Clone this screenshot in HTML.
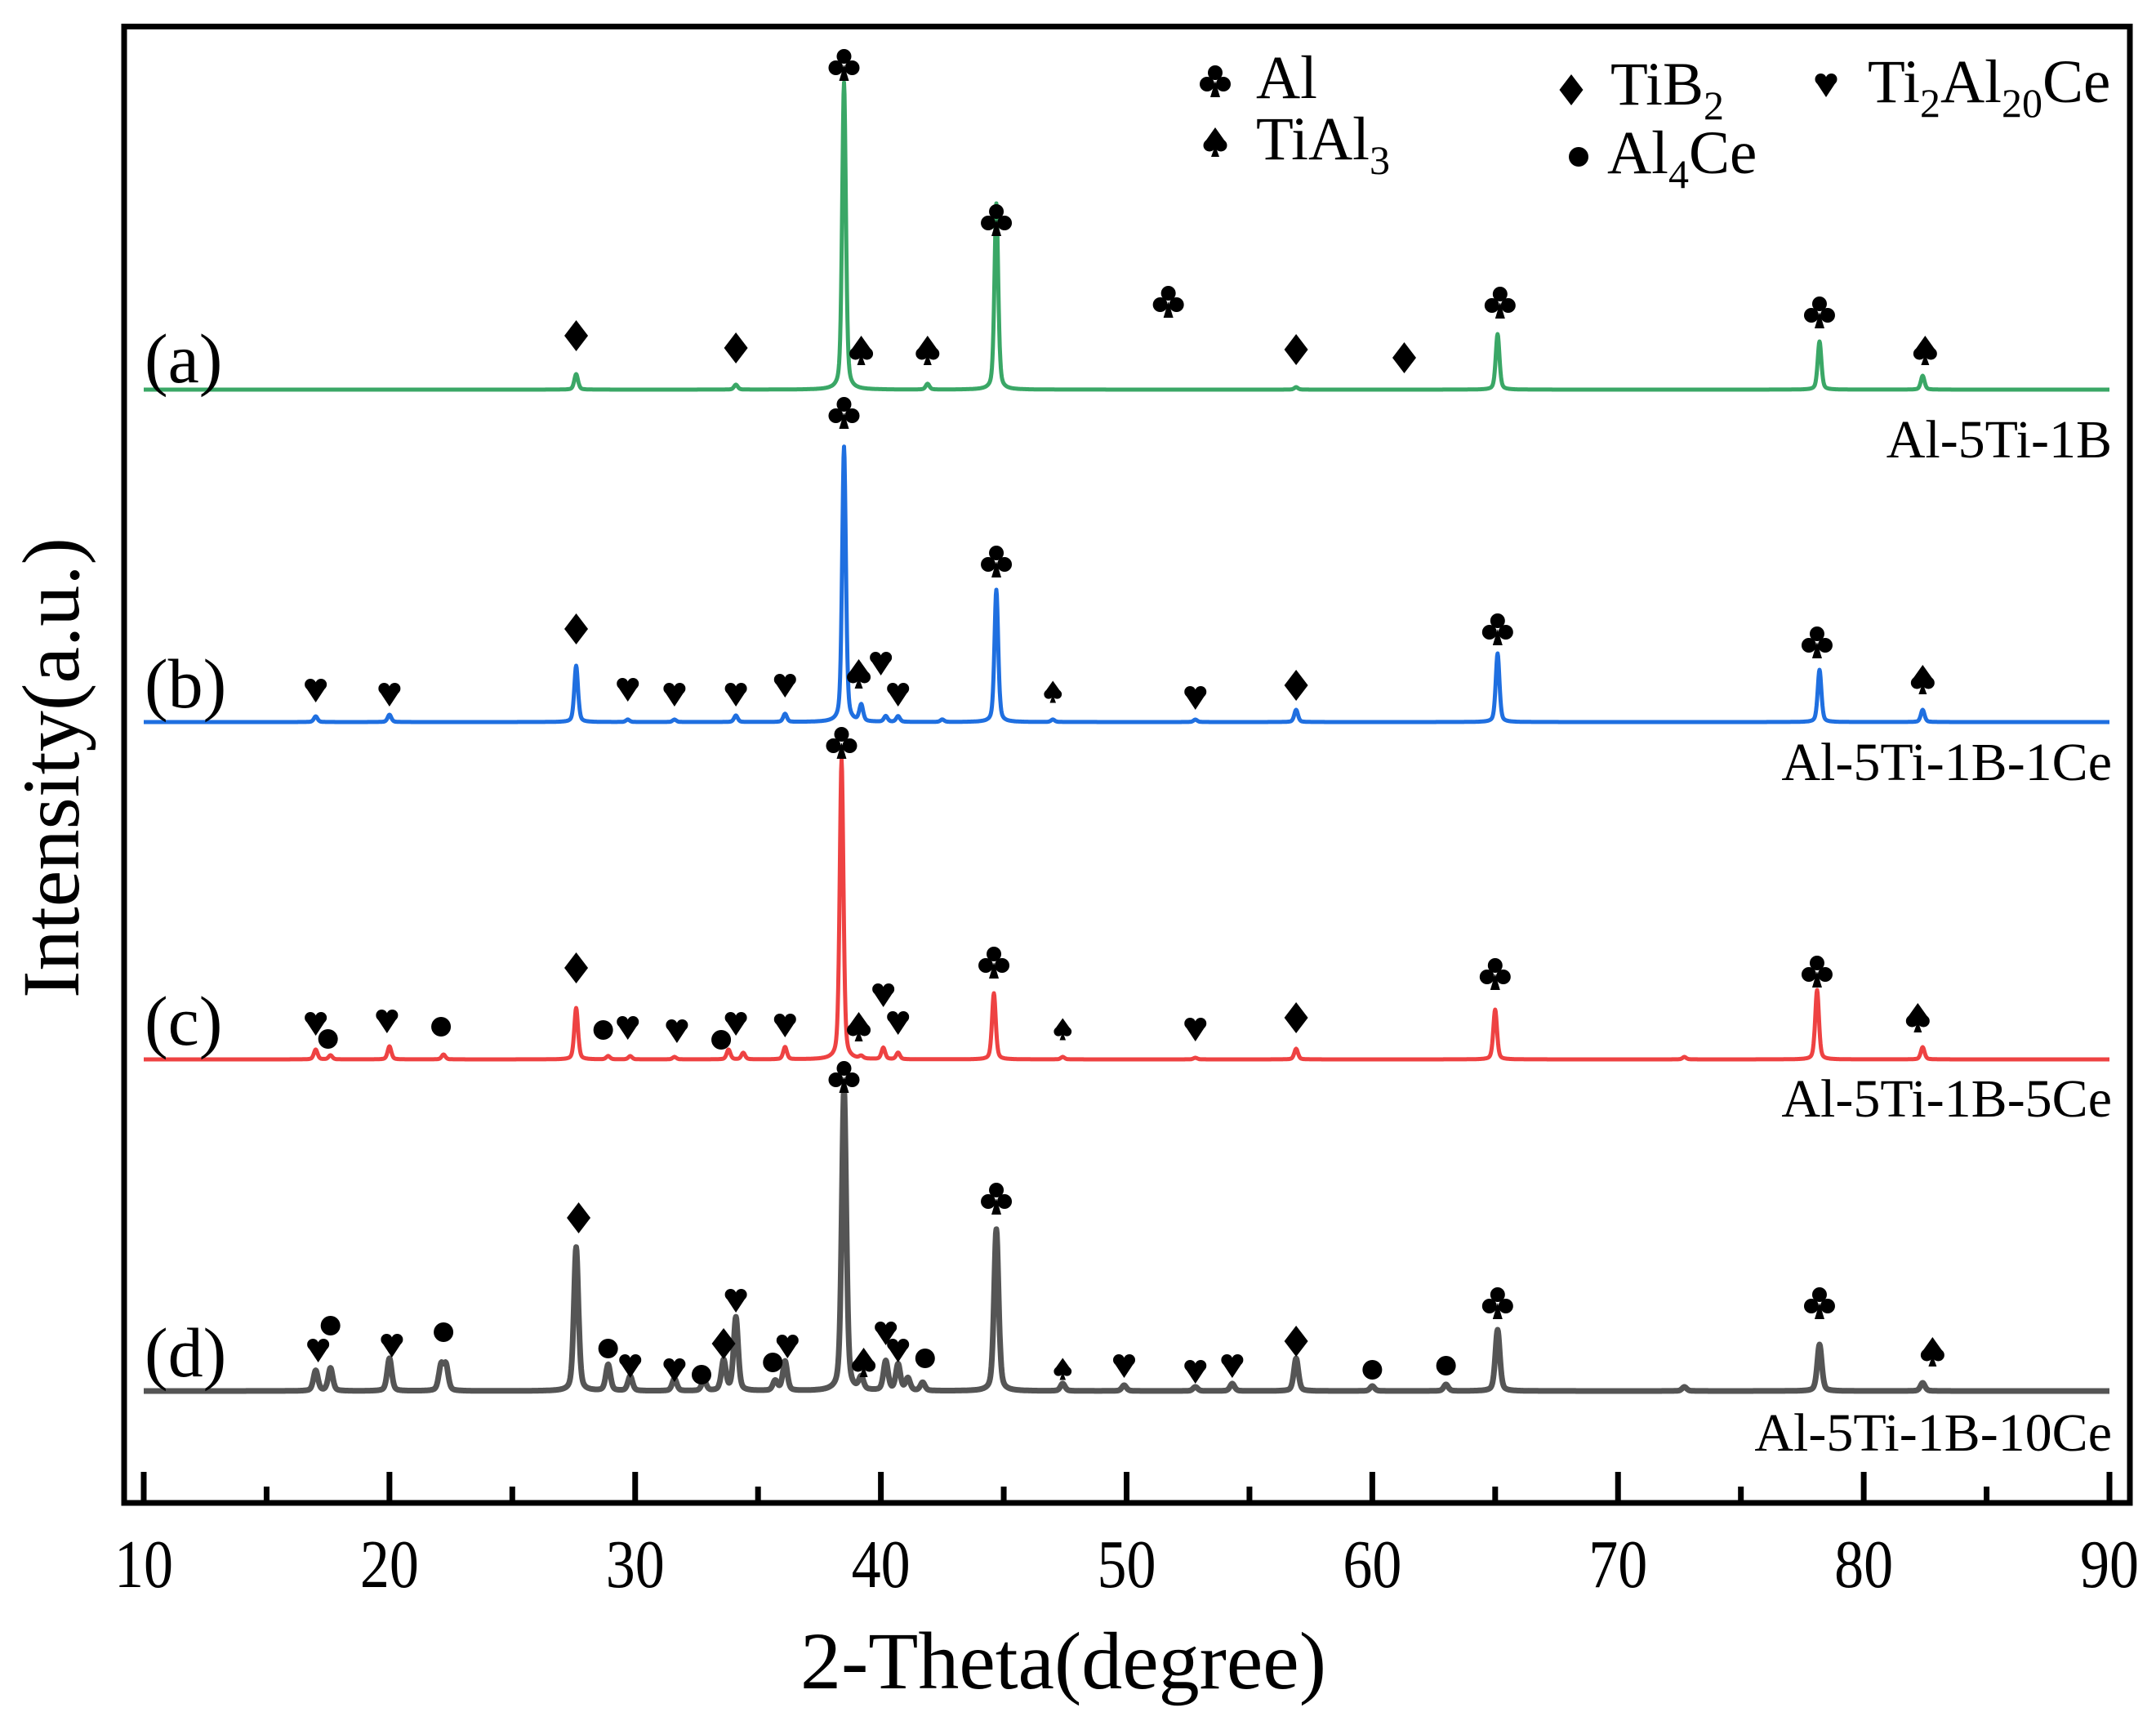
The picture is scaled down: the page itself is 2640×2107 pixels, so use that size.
<!DOCTYPE html>
<html><head><meta charset="utf-8">
<style>
html,body{margin:0;padding:0;background:#fff;}
svg{display:block;}
text{font-family:"Liberation Serif","Times New Roman",serif;fill:#000;}
</style></head>
<body>
<svg id="chart" width="2640" height="2107" viewBox="0 0 2640 2107" xmlns="http://www.w3.org/2000/svg">
<rect x="0" y="0" width="2640" height="2107" fill="#fff"/>
<g id="traces"></g>
<g id="markers"></g>
<g id="axes"></g>
<g id="legend"></g>
</svg>
<script>
// ---- data ----
const xTicks = [10,20,30,40,50,60,70,80,90];
const sampleNames = ["Al-5Ti-1B","Al-5Ti-1B-1Ce","Al-5Ti-1B-5Ce","Al-5Ti-1B-10Ce"];
const panelLabels = ["(a)","(b)","(c)","(d)"];
const offsets = [477,884,1297,1703]; // baseline position of each stacked pattern
const colors = ["#3aa766","#1f6fe0","#ee4242","#555555"];

const peaksA = [27.6,34.1,38.5,41.9,44.7,56.9,65.1,78.2,82.4];
const heightsA = [19,6,376,7,228,3,68,59,17];
const peaksB = [17.0,20.0,27.6,29.7,31.6,34.1,36.1,38.5,39.2,40.2,40.7,42.5,44.7,47.0,52.8,56.9,65.1,78.2,82.4];
const heightsB = [7,9,69,3,3,8,10,337,20,7,7,3,162,3,3,15,84,64,15];
const peaksC = [17.0,17.6,20.0,22.2,27.6,28.9,29.8,31.6,33.8,34.4,36.1,38.4,39.2,40.1,40.7,44.6,47.4,52.8,56.9,65.0,72.7,78.1,82.4];
const heightsC = [12,5,16,6,63,4,4,3,12,8,15,367,3,14,8,81,3,2,13,61,3,85,15];
const peaksD = [17.0,17.6,20.0,22.1,22.3,27.6,28.9,29.8,31.6,32.8,33.6,34.1,35.7,36.1,38.5,39.2,40.2,40.7,41.1,41.7,44.7,47.4,49.9,52.8,54.3,56.9,60.0,63.0,65.1,72.7,78.2,82.4];
const heightsD = [25,28,40,30,30,176,32,18,15,13,37,90,12,36,370,15,36,32,15,10,198,9,7,5,9,40,6,8,75,5,57,10];
const allPeaks = [peaksA,peaksB,peaksC,peaksD];
const allHeights = [heightsA,heightsB,heightsC,heightsD];

const mThetaA = [27.6,34.1,38.5,39.2,41.9,44.7,51.7,56.9,61.3,65.2,78.2,82.5];
const mLevelA = [66,51,398,48,48,208,108,49,39,107,95,48];
const mTypeA = ["diamond","diamond","club","spade","spade","club","club","diamond","diamond","club","club","spade"];
const mThetaB = [17.0,20.0,27.6,29.7,31.6,34.1,36.1,38.5,39.1,40.0,40.7,44.7,47.0,52.8,56.9,65.1,78.1,82.4];
const mLevelB = [39,34,114,40,34,34,45,379,59,72,34,197,37,30,45,114,98,52];
const mTypeB = ["heart","heart","diamond","heart","heart","heart","heart","club","spade","heart","heart","club","spade","heart","diamond","club","club","spade"];
const mThetaC = [17.0,17.5,19.9,22.1,27.6,28.7,29.7,31.7,33.5,34.1,36.1,38.4,39.1,40.1,40.7,44.6,47.4,52.8,56.9,65.0,78.1,82.2];
const mLevelC = [44,25,47,40,112,36,39,35,24,44,42,388,40,79,45,119,37,37,51,105,108,51];
const mTypeC = ["heart","dot","heart","dot","diamond","dot","heart","heart","dot","heart","heart","club","spade","heart","heart","club","spade","heart","diamond","club","club","spade"];
const mThetaD = [17.1,17.6,20.1,22.2,27.7,28.9,29.8,31.6,32.7,33.6,34.1,35.6,36.2,38.5,39.3,40.2,40.7,41.8,44.7,47.4,49.9,52.8,54.3,56.9,60.0,63.0,65.1,78.2,82.8];
const mLevelD = [50,80,56,72,212,52,31,26,20,58,111,35,55,385,35,71,50,40,236,27,31,24,31,61,26,31,108,108,48];
const mTypeD = ["heart","dot","heart","dot","diamond","dot","heart","heart","dot","diamond","heart","dot","heart","club","spade","heart","heart","dot","club","spade","heart","heart","heart","diamond","dot","dot","club","club","spade"];
const allMTheta = [mThetaA,mThetaB,mThetaC,mThetaD];
const allMLevel = [mLevelA,mLevelB,mLevelC,mLevelD];
const allMType = [mTypeA,mTypeB,mTypeC,mTypeD];

// ---- scales ----
const X0 = 176, X1 = 2583;
function xs(t){ return X0 + (t-10)*(X1-X0)/80; }
function ys(i, level){ return offsets[i] - level; }
const NS = "http://www.w3.org/2000/svg";
function el(tag, attrs, parent){
  const e = document.createElementNS(NS, tag);
  for (const k in attrs) e.setAttribute(k, attrs[k]);
  parent.appendChild(e); return e;
}

// ---- traces ----
const gT = document.getElementById('traces');
for (let i=0;i<4;i++){
  const P = allPeaks[i], H = allHeights[i];
  const w = i===3 ? 0.11 : 0.09;
  let d = "";
  for (let t=10; t<=90.001; t+=0.02){
    let v = 0;
    for (let k=0;k<P.length;k++){
      const u = (t-P[k])/w;
      v += H[k]*(0.6*Math.exp(-0.693*u*u) + 0.4/(1+u*u));
    }
    d += (d ? "L" : "M") + xs(t).toFixed(1) + "," + ys(i, v).toFixed(1);
  }
  const p = el('path', {d:d, fill:"none", stroke:colors[i], "stroke-width": i===3?7:5, "stroke-linejoin":"round"}, gT);
  
  
}

// ---- marker shapes ----
function drawSym(type, cx, cy, parent, s){
  s = s || 1;
  const g = el('g', {transform:`translate(${cx},${cy}) scale(${s})`, fill:"#000"}, parent);
  if (type==="diamond"){
    el('polygon', {points:"0,-19 14.5,0 0,19 -14.5,0"}, g);
  } else if (type==="dot"){
    el('ellipse', {cx:0, cy:0, rx:12, ry:12}, g);
  } else if (type==="heart"){
    el('circle', {cx:-6.5, cy:-7, r:7}, g);
    el('circle', {cx:6.5, cy:-7, r:7}, g);
    el('polygon', {points:"-13.2,-5 13.2,-5 0,15"}, g);
  } else if (type==="club"){
    el('circle', {cx:0, cy:-10, r:9}, g);
    el('circle', {cx:-10, cy:4, r:9}, g);
    el('circle', {cx:10, cy:4, r:9}, g);
    el('polygon', {points:"0,0 -6,20 6,20"}, g);
  } else if (type==="spade"){
    el('circle', {cx:-7, cy:4, r:7.5}, g);
    el('circle', {cx:7, cy:4, r:7.5}, g);
    el('polygon', {points:"-14.2,2 14.2,2 0,-18"}, g);
    el('polygon', {points:"0,4 -5,18 5,18"}, g);
  }
  return g;
}
const gM = document.getElementById('markers');
for (let i=0;i<4;i++){
  const T = allMTheta[i], L = allMLevel[i], Y = allMType[i];
  for (let k=0;k<T.length;k++){
    const small = (Y[k]==="spade" && Math.abs(T[k]-47.2)<0.5) ? 0.75 : 1;
    const m = drawSym(Y[k], xs(T[k]), ys(i, L[k]), gM, small);
    
    
  }
}

// ---- axes ----
const gA = document.getElementById('axes');
const frame = el('rect', {x:152, y:32.5, width:2456, height:1807.5, fill:"none", stroke:"#000", "stroke-width":7}, gA);


for (let t=10;t<=90;t+=5){
  const major = (t%10===0);
  const tk = el('line', {x1:xs(t), x2:xs(t), y1:1837, y2: major?1802:1820, stroke:"#000", "stroke-width":7}, gA);
  
  
}
for (let k=0;k<xTicks.length;k++){
  const tx = el('text', {x:xs(xTicks[k]), y:1943, "font-size":84, "text-anchor":"middle", textLength:72, lengthAdjust:"spacingAndGlyphs"}, gA);
  tx.textContent = xTicks[k];
  
  
}
const xt = el('text', {x:1302, y:2067, "font-size":100, "text-anchor":"middle"}, gA);
xt.textContent = "2-Theta(degree)";


const yt = el('text', {x:0, y:0, "font-size":100, "text-anchor":"middle", textLength:564, lengthAdjust:"spacingAndGlyphs", transform:"translate(96,940) rotate(-90)"}, gA);
yt.textContent = "Intensity(a.u.)";



const labelY = [468,866,1279,1685];
const nameY = [560,955,1367,1776];
for (let i=0;i<4;i++){
  const pl = el('text', {x:177, y:labelY[i], "font-size":86}, gA);
  pl.textContent = panelLabels[i];
  
  
  const sn = el('text', {x:2586, y:nameY[i], "font-size":66, "text-anchor":"end"}, gA);
  sn.textContent = sampleNames[i];
  
  
}

// ---- legend ----
const gL = document.getElementById('legend');
const legTypes = ["club","spade","diamond","heart","dot"];
const legSymX = [1488,1488,1924,2236,1933];
const legSymY = [99,174,110,104,192];
for (let k=0;k<legTypes.length;k++){
  const s = drawSym(legTypes[k], legSymX[k], legSymY[k], gL, 1);
  
  
}
function legText(x, y, parts){
  const t = el('text', {x:x, y:y, "font-size":75}, gL);
  let sub = false;
  parts.forEach(p=>{
    const ts = document.createElementNS(NS,'tspan');
    ts.textContent = p[0];
    if (p[1]) { ts.setAttribute('font-size', 50); ts.setAttribute('dy', 18); sub = true; }
    else if (sub) { ts.setAttribute('dy', -18); sub = false; }
    t.appendChild(ts);
  });
  
  
}
legText(1538,120,[["Al",0]]);
legText(1538,195,[["TiAl",0],["3",1]]);
legText(1972,128,[["TiB",0],["2",1]]);
legText(2287,125,[["Ti",0],["2",1],["Al",0],["20",1],["Ce",0]]);
legText(1968,212,[["Al",0],["4",1],["Ce",0]]);
</script>
</body></html>
